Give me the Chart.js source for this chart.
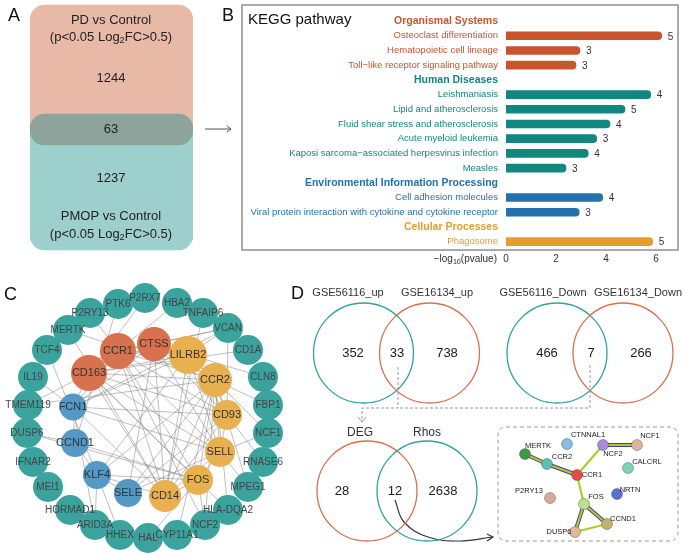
<!DOCTYPE html>
<html>
<head>
<meta charset="utf-8">
<script src="https://cdn.jsdelivr.net/npm/chart.js@4.4.1/dist/chart.umd.min.js"></script>
<style>
body { margin: 0; background: #fff; width: 685px; height: 557px; position: relative; overflow: hidden; }
canvas { position: absolute; }
#vennA { left: 30px; top: 0; }
#kegg { left: 237px; top: 0; }
#overlay { left: 0; top: 0; }
</style>
</head>
<body>
<canvas id="vennA" width="163" height="260"></canvas>
<canvas id="kegg" width="448" height="269"></canvas>
<canvas id="overlay" width="685" height="557"></canvas>
<script>
const FONT = 'Arial, "Liberation Sans", sans-serif';
Chart.defaults.font.family = FONT;
Chart.defaults.animation = false;

// ---- panel A: DEG overlap
const vennASets = ['PD vs Control', 'PMOP vs Control'];
const vennACounts = [1244, 63, 1237];
const vennAColors = ['#E9B9A8', '#9DCFCD', '#8EA39B'];

// ---- panel B: KEGG pathways
const groupNames = ['Organismal Systems', 'Human Diseases', 'Environmental Information Processing', 'Cellular Processes'];
const groupColors = ['#C8552E', '#12877F', '#2372AB', '#E39E2C'];
const pathwayNames = ['Osteoclast differentiation', 'Hematopoietic cell lineage', 'Toll\u2212like receptor signaling pathway',
  'Leishmaniasis', 'Lipid and atherosclerosis', 'Fluid shear stress and atherosclerosis', 'Acute myeloid leukemia',
  'Kaposi sarcoma\u2212associated herpesvirus infection', 'Measles',
  'Cell adhesion molecules', 'Viral protein interaction with cytokine and cytokine receptor',
  'Phagosome'];
const pathwayGroup = [0, 0, 0, 1, 1, 1, 1, 1, 1, 2, 2, 3];
const negLog10P = [6.23, 2.96, 2.8, 5.79, 4.76, 4.16, 3.63, 3.29, 2.4, 3.87, 2.93, 5.87];
const geneCounts = [5, 3, 3, 4, 5, 4, 3, 4, 3, 4, 3, 5];
const xTicks = [0, 2, 4, 6];

// ---- panel C: PPI network of the 63 genes
const hubNames = ['CCR1', 'CTSS', 'CD163', 'LILRB2', 'CCR2', 'CD93', 'SELL', 'FOS', 'CD14', 'FCN1', 'CCND1', 'KLF4', 'SELE'];
const hubGroup = ['red', 'red', 'red', 'gold', 'gold', 'gold', 'gold', 'gold', 'gold', 'blue', 'blue', 'blue', 'blue'];
const ringNames = ['PTK6', 'P2RX7', 'HBA2', 'TNFAIP6', 'VCAN', 'CD1A', 'CLN8', 'FBP1', 'NCF1', 'RNASE6', 'MPEG1', 'HLA-DQA2', 'NCF2',
  'CYP11A1', 'HAL', 'HHEX', 'ARID3A', 'HORMAD1', 'MEI1', 'IFNAR2', 'DUSP6', 'TMEM119', 'IL19', 'TCF4', 'MERTK', 'P2RY13'];
const cEdges = [
  ['CCR1','CTSS'],['CCR1','CD163'],['CCR1','LILRB2'],['CCR1','CCR2'],['CCR1','CD93'],['CCR1','SELL'],['CCR1','CD14'],['CCR1','FCN1'],['CCR1','FOS'],
  ['CTSS','CD163'],['CTSS','LILRB2'],['CTSS','CCR2'],['CTSS','CD93'],['CTSS','SELL'],['CTSS','CD14'],['CTSS','FCN1'],['CTSS','SELE'],
  ['CD163','LILRB2'],['CD163','CCR2'],['CD163','CD93'],['CD163','CD14'],['CD163','FCN1'],['CD163','SELL'],['CD163','FOS'],
  ['LILRB2','CCR2'],['LILRB2','CD93'],['LILRB2','FCN1'],['LILRB2','CD14'],['LILRB2','SELL'],['LILRB2','KLF4'],
  ['CCR2','CD93'],['CCR2','SELL'],['CCR2','CD14'],['CCR2','FOS'],['CCR2','KLF4'],['CCR2','SELE'],
  ['CD93','SELL'],['CD93','CD14'],['CD93','SELE'],['CD93','FCN1'],
  ['SELL','CD14'],['SELL','SELE'],['SELL','FCN1'],['SELL','FOS'],
  ['FOS','CCND1'],['FOS','KLF4'],['FOS','CD14'],['FOS','DUSP6'],
  ['CCND1','KLF4'],['CCND1','FCN1'],['KLF4','SELE'],['FCN1','CD14'],['CD14','KLF4'],
  ['MERTK','CCR2'],['MERTK','CD14'],['P2RY13','CCR1'],['PTK6','CCND1'],['HBA2','CCR1'],['P2RX7','CD163'],['TNFAIP6','CD14'],
  ['VCAN','CCR1'],['VCAN','CTSS'],['VCAN','CD93'],['VCAN','LILRB2'],['VCAN','FCN1'],['CD1A','CD163'],['FBP1','CCR2'],
  ['NCF1','SELL'],['NCF1','CCR2'],['RNASE6','CD93'],['MPEG1','SELL'],['MPEG1','CCR2'],['HLA-DQA2','CCR2'],['HLA-DQA2','CD163'],
  ['NCF2','CCR1'],['NCF2','FOS'],['NCF2','CCR2'],['CYP11A1','CCR2'],['HAL','FOS'],['HHEX','KLF4'],['ARID3A','KLF4'],
  ['ARID3A','FCN1'],['IL19','TCF4'],['TCF4','KLF4'],['TCF4','MERTK'],['TMEM119','CCR2'],['TMEM119','CD163'],
  ['DUSP6','CCND1'],['IL19','FCN1'],['CLN8','CTSS']
];

// ---- panel D: venn counts and STRING network
const vennUpSets = ['GSE56116_up', 'GSE16134_up'];
const vennUpCounts = [352, 33, 738];
const vennDownSets = ['GSE56116_Down', 'GSE16134_Down'];
const vennDownCounts = [466, 7, 266];
const vennRhosSets = ['DEG', 'Rhos'];
const vennRhosCounts = [28, 12, 2638];
const stringNames = ['CTNNAL1', 'NCF2', 'NCF1', 'MERTK', 'CCR2', 'CCR1', 'CALCRL', 'P2RY13', 'FOS', 'NRTN', 'CCND1', 'DUSP6'];
const stringEdges = [['MERTK','CCR2'],['CCR2','CCR1'],['CCR1','NCF2'],['NCF2','NCF1'],['CCR1','FOS'],['FOS','CCND1'],['FOS','DUSP6'],['DUSP6','CCND1']];
const stringMultiEdges = [['MERTK','CCR2'],['CCR2','CCR1'],['NCF2','NCF1'],['FOS','CCND1'],['FOS','DUSP6']];

// ---- layout (page pixels)
const vennABands = [[5, 145], [114, 250], [114, 145]];
const hubXY = { CCR1:[118,351], CTSS:[154,344], CD163:[89,373], LILRB2:[188,355], CCR2:[215,380], CD93:[227,415], SELL:[220,452],
  FOS:[198,480], CD14:[165,496], FCN1:[73,407], CCND1:[75,443], KLF4:[97,475], SELE:[128,493] };
const hubRadius = { CCR1:18, CTSS:17, CD163:18, LILRB2:19, CCR2:17, CD93:15, SELL:15, FOS:15, CD14:16, FCN1:13.5, CCND1:14, KLF4:14, SELE:14 };
const ringXY = { PTK6:[118,304], P2RX7:[145,298], HBA2:[177,303], TNFAIP6:[203,313], VCAN:[228,328], CD1A:[248,350], CLN8:[263,377],
  FBP1:[268,405], NCF1:[268,433], RNASE6:[263,462], MPEG1:[248,487], 'HLA-DQA2':[228,510], NCF2:[205,525], CYP11A1:[177,535],
  HAL:[148,538], HHEX:[120,535], ARID3A:[95,525], HORMAD1:[70,510], MEI1:[48,487], IFNAR2:[33,462], DUSP6:[27,433],
  TMEM119:[28,405], IL19:[33,377], TCF4:[47,350], MERTK:[68,330], P2RY13:[90,313] };
const stringXY = { CTNNAL1:[567,444], NCF2:[603,445], NCF1:[637,445], MERTK:[525,454], CCR2:[547,464], CCR1:[577,475],
  CALCRL:[628,468], P2RY13:[550,498], FOS:[584,504], NRTN:[617,494], CCND1:[607,524], DUSP6:[575,532] };
const stringLabelXY = { CTNNAL1:[588,435], NCF2:[613,454], NCF1:[650,436], MERTK:[538,446], CCR2:[562,457], CCR1:[592,475],
  CALCRL:[647,462], P2RY13:[529,491], FOS:[596,497], NRTN:[630,490], CCND1:[623,519], DUSP6:[559,532] };
const stringColors = { CTNNAL1:'#86BDE3', NCF2:'#A98BDA', NCF1:'#DDB49B', MERTK:'#3E9A45', CCR2:'#5EBEB4', CCR1:'#E8484B',
  CALCRL:'#80D5B1', P2RY13:'#D9A89A', FOS:'#BCE091', NRTN:'#5B70D6', CCND1:'#C4B46B', DUSP6:'#E2B996' };
const hubColors = { red: '#D8714D', gold: '#E9B04F', blue: '#5498C6' };

// ================= panel A chart
new Chart(document.getElementById('vennA'), {
  type: 'bar',
  data: {
    labels: [''],
    datasets: vennABands.map((b, i) => ({
      data: [b], backgroundColor: vennAColors[i], borderRadius: 15, borderSkipped: false,
      barPercentage: 1, categoryPercentage: 1, grouped: false, order: 3 - i
    }))
  },
  options: {
    responsive: false, events: [], layout: { padding: 0, autoPadding: false },
    plugins: { legend: { display: false }, tooltip: { enabled: false } },
    scales: { x: { display: false }, y: { display: false, min: 0, max: 260, reverse: true } }
  }
});

// ================= panel B chart
const rows = [];
groupNames.forEach((g, gi) => {
  rows.push({ label: g, header: true, group: gi, value: null, count: null });
  pathwayNames.forEach((p, pi) => {
    if (pathwayGroup[pi] === gi) rows.push({ label: p, header: false, group: gi, value: negLog10P[pi], count: geneCounts[pi] });
  });
});

function subText(ctx, parts, x, y, size, align) {
  // parts: [text, isSub]
  const widths = parts.map(p => {
    ctx.font = (p[1] ? size * 0.72 : size) + 'px ' + FONT;
    return ctx.measureText(p[0]).width;
  });
  const total = widths.reduce((a, b) => a + b, 0);
  let cx = align === 'right' ? x - total : align === 'center' ? x - total / 2 : x;
  ctx.textAlign = 'left';
  ctx.textBaseline = 'middle';
  parts.forEach((p, i) => {
    ctx.font = (p[1] ? size * 0.72 : size) + 'px ' + FONT;
    ctx.fillText(p[0], cx, p[1] ? y + size * 0.3 : y);
    cx += widths[i];
  });
}

const keggDecor = {
  id: 'keggDecor',
  afterDatasetsDraw(chart) {
    const ctx = chart.ctx;
    const ox = 237;
    ctx.save();
    ctx.strokeStyle = '#8f8f8f';
    ctx.lineWidth = 1.5;
    ctx.strokeRect(242 - ox, 5, 678 - 242, 245);
    ctx.fillStyle = '#111';
    ctx.font = '15px ' + FONT;
    ctx.textAlign = 'left';
    ctx.textBaseline = 'middle';
    ctx.fillText('KEGG pathway', 248 - ox, 20);
    ctx.fillStyle = '#333';
    subText(ctx, [['\u2212log', false], ['10', true], ['(pvalue)', false]], 497 - ox, 259, 10, 'right');
    const meta = chart.getDatasetMeta(0);
    ctx.font = '10px ' + FONT;
    ctx.fillStyle = '#333';
    meta.data.forEach((el, i) => {
      if (rows[i].count == null) return;
      ctx.fillText(String(rows[i].count), el.x + 6, el.y + 1);
    });
    ctx.restore();
  }
};

new Chart(document.getElementById('kegg'), {
  type: 'bar',
  data: {
    labels: rows.map(r => r.label),
    datasets: [{
      data: rows.map(r => r.value),
      backgroundColor: rows.map(r => groupColors[r.group]),
      barThickness: 8, borderRadius: 4, borderSkipped: 'start'
    }]
  },
  plugins: [keggDecor],
  options: {
    responsive: false, events: [], indexAxis: 'y',
    layout: { padding: { left: 0, right: 4, top: 6, bottom: 0 } },
    plugins: { legend: { display: false }, tooltip: { enabled: false } },
    scales: {
      y: {
        grid: { display: false, drawTicks: false }, border: { display: false },
        afterFit: s => { s.width = 269; },
        ticks: {
          autoSkip: false, padding: 8,
          color: c => groupColors[rows[c.index].group],
          font: c => rows[c.index].header ? { size: 10.5, weight: 'bold', family: FONT } : { size: 9.5, family: FONT }
        }
      },
      x: {
        min: 0, max: 7,
        grid: { display: false, drawTicks: false }, border: { display: false },
        afterBuildTicks: s => { s.ticks = xTicks.map(v => ({ value: v })); },
        afterFit: s => { s.height = 20; },
        ticks: { padding: 4, color: '#333', font: { size: 10 } }
      }
    }
  }
});

// ================= overlay chart: panels C and D, texts
function segs(edges, xy) {
  const out = [];
  edges.forEach(e => {
    out.push({ x: xy[e[0]][0], y: xy[e[0]][1] }, { x: xy[e[1]][0], y: xy[e[1]][1] }, { x: null, y: null });
  });
  return out;
}
const cXY = Object.assign({}, ringXY, hubXY);

const lineDs = (data, color, width, order, extra) => Object.assign({
  type: 'line', data, borderColor: color, borderWidth: width, pointRadius: 0, spanGaps: false, fill: false,
  order, clip: false
}, extra || {});

const venns = [
  { xy: [[363.5, 353], [429.5, 353]], colors: ['#2EA49D', '#D9704F'] },
  { xy: [[557, 353], [623, 353]], colors: ['#2EA49D', '#D9704F'] },
  { xy: [[367, 491], [427, 491]], colors: ['#D9704F', '#2EA49D'] }
];
const vennPts = [], vennCols = [];
venns.forEach(v => v.xy.forEach((p, i) => { vennPts.push({ x: p[0], y: p[1] }); vennCols.push(v.colors[i]); }));

const datasets = [
  // PPI nodes (C)
  {
    data: hubNames.map(n => ({ x: hubXY[n][0], y: hubXY[n][1] })).concat(ringNames.map(n => ({ x: ringXY[n][0], y: ringXY[n][1] }))),
    pointRadius: hubNames.map(n => hubRadius[n]).concat(ringNames.map(() => 15)),
    backgroundColor: hubGroup.map(g => hubColors[g]).concat(ringNames.map(() => '#3AA39E')),
    pointBorderWidth: 0, order: 1, clip: false
  },
  lineDs(segs(cEdges, cXY), 'rgba(125,125,125,0.7)', 0.7, 5),
  // venn circles (D)
  {
    data: vennPts, pointRadius: 50, pointBackgroundColor: 'rgba(0,0,0,0)', pointBorderColor: vennCols,
    pointBorderWidth: 1.3, order: 2, clip: false
  },
  // dashed connectors
  lineDs([{ x: 398, y: 367 }, { x: 398, y: 408 }, { x: 362, y: 408 }, { x: 362, y: 421 }, { x: null, y: null },
    { x: 590, y: 365 }, { x: 590, y: 408 }, { x: 398, y: 408 }], '#9a9a9a', 1, 4, { borderDash: [3, 2] }),
  // curved arrow to network
  lineDs([{ x: 395, y: 500 }, { x: 404, y: 522 }, { x: 428, y: 537 }, { x: 460, y: 541 }, { x: 492, y: 537 }], '#333', 1.2, 4, { tension: 0.4 }),
  // STRING edges
  lineDs(segs(stringMultiEdges, stringXY), '#4B3A9A', 4, 3),
  lineDs(segs(stringEdges, stringXY), '#A9CC2E', 2.2, 2.5),
  // STRING nodes
  {
    data: stringNames.map(n => ({ x: stringXY[n][0], y: stringXY[n][1] })), pointRadius: 5.5,
    backgroundColor: stringNames.map(n => stringColors[n]), pointBorderColor: 'rgba(60,60,60,0.45)',
    pointBorderWidth: 0.8, order: 0, clip: false
  }
];

const overlayText = {
  id: 'overlayText',
  afterDatasetsDraw(chart) {
    const ctx = chart.ctx, xs = chart.scales.x, ys = chart.scales.y;
    const X = v => xs.getPixelForValue(v), Y = v => ys.getPixelForValue(v);
    const txt = (s, x, y, size, color, align, weight) => {
      ctx.font = (weight || '') + ' ' + size + 'px ' + FONT;
      ctx.fillStyle = color; ctx.textAlign = align || 'center'; ctx.textBaseline = 'middle';
      ctx.fillText(s, X(x), Y(y));
    };
    ctx.save();
    // panel letters
    txt('A', 8, 16, 18, '#111', 'left');
    txt('B', 222, 16, 18, '#111', 'left');
    txt('C', 4, 295, 18, '#111', 'left');
    txt('D', 291, 294, 18, '#111', 'left');
    // panel A
    txt(vennASets[0], 111, 20, 13, '#222');
    ctx.fillStyle = '#222';
    subText(ctx, [['(p<0.05 Log', false], ['2', true], ['FC>0.5)', false]], X(111), Y(37), 13, 'center');
    txt(String(vennACounts[0]), 111, 78, 13, '#222');
    txt(String(vennACounts[1]), 111, 129, 13, '#222');
    txt(String(vennACounts[2]), 111, 178, 13, '#222');
    txt(vennASets[1], 111, 216, 13, '#222');
    ctx.fillStyle = '#222';
    subText(ctx, [['(p<0.05 Log', false], ['2', true], ['FC>0.5)', false]], X(111), Y(234), 13, 'center');
    ctx.strokeStyle = '#555'; ctx.lineWidth = 1;
    ctx.beginPath(); ctx.moveTo(X(205), Y(129)); ctx.lineTo(X(231), Y(129));
    ctx.moveTo(X(227), Y(126)); ctx.lineTo(X(231), Y(129)); ctx.lineTo(X(227), Y(132)); ctx.stroke();
    // panel C labels
    ringNames.forEach(n => txt(n, ringXY[n][0], ringXY[n][1], 10, '#444'));
    hubNames.forEach(n => txt(n, hubXY[n][0], hubXY[n][1], 11, '#333'));
    // panel D venn labels
    txt(vennUpSets[0], 348, 293, 11, '#333'); txt(vennUpSets[1], 437, 293, 11, '#333');
    txt(vennDownSets[0], 543, 293, 11, '#333'); txt(vennDownSets[1], 638, 293, 11, '#333');
    [353, 397, 447].forEach((x, i) => txt(String(vennUpCounts[i]), x, 353, 13, '#222'));
    [547, 591, 641].forEach((x, i) => txt(String(vennDownCounts[i]), x, 353, 13, '#222'));
    txt(vennRhosSets[0], 360, 433, 12, '#333'); txt(vennRhosSets[1], 427, 433, 12, '#333');
    [342, 395, 443].forEach((x, i) => txt(String(vennRhosCounts[i]), x, 491, 13, '#222'));
    // arrow heads
    ctx.strokeStyle = '#9a9a9a'; ctx.lineWidth = 1;
    ctx.beginPath(); ctx.moveTo(X(358), Y(417)); ctx.lineTo(X(362), Y(422)); ctx.lineTo(X(366), Y(417)); ctx.stroke();
    ctx.strokeStyle = '#333'; ctx.lineWidth = 1.2;
    ctx.beginPath(); ctx.moveTo(X(487), Y(534)); ctx.lineTo(X(493), Y(537)); ctx.lineTo(X(487), Y(541)); ctx.stroke();
    // dashed frame around the STRING network
    ctx.strokeStyle = '#9a9a9a'; ctx.lineWidth = 1; ctx.setLineDash([4, 3]);
    ctx.beginPath(); ctx.roundRect(X(498), Y(427), X(678) - X(498), Y(541) - Y(427), 8); ctx.stroke();
    ctx.setLineDash([]);
    stringNames.forEach(n => txt(n, stringLabelXY[n][0], stringLabelXY[n][1], 7.5, '#222'));
    ctx.restore();
  }
};

new Chart(document.getElementById('overlay'), {
  type: 'scatter',
  data: { datasets },
  plugins: [overlayText],
  options: {
    responsive: false, events: [], layout: { padding: 0, autoPadding: false },
    plugins: { legend: { display: false }, tooltip: { enabled: false } },
    scales: {
      x: { display: false, type: 'linear', min: 0, max: 685 },
      y: { display: false, type: 'linear', min: 0, max: 557, reverse: true }
    }
  }
});
</script>
</body>
</html>
